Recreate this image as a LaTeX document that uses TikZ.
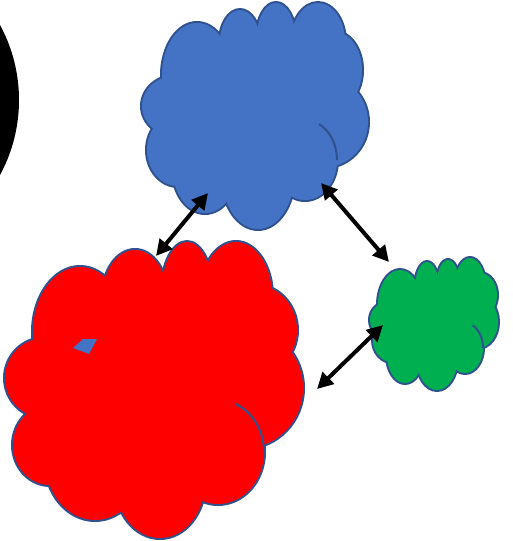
\documentclass[tikz,border=0pt]{standalone}
\usetikzlibrary{arrows.meta}

\definecolor{puffblue}{HTML}{4472C4}
\definecolor{puffrim}{HTML}{2F528F}
\definecolor{puffred}{HTML}{FF0000}
\definecolor{puffgreen}{HTML}{00B050}

\tikzset{
  rim/.style={draw=puffrim, line width=4pt},
  fold/.style={draw=puffrim, line width=2pt},
  link/.style={line width=4pt, {Triangle[length=16pt,width=16pt]}-{Triangle[length=16pt,width=16pt]}}
}

% puffs: centre x / centre y / x radius / y radius
\def\bluepuffs{197/75/35/52, 240/42/20/32, 276/36/19/33, 318/42/27/39, 335/70/27/38,
  325/122/43/45, 305/160/32/40, 258/176/36/53, 205/170/32/43, 178/150/31/36, 175/106/33/30}
\def\redpuffs{80/332/47/65, 135/295/32/45, 187/290/25/48, 236/296/36/54, 255/330/42/45,
  245/388/58/60, 218/452/46/52, 160/482/45/56, 95/460/50/60, 50/445/37/40, 45/378/40/40}
\def\greenpuffs{400/305/22/35, 427/288/12/26, 448/283/11/23, 470/285/15/27, 480/295/17/22,
  478/322/20/26, 465/348/18/25, 437/360/20/30, 405/355/18/28, 392/340/19/22, 388/320/18/18}

\begin{document}
\begin{tikzpicture}[x=1pt,y=-1pt]
  \useasboundingbox (0,0) rectangle (513,541);

  % black disc cut by the left edge
  \fill[black] (-138.5,100) circle (157.5);

  % blue cloud
  \foreach \cx/\cy/\rx/\ry in \bluepuffs
    \draw[rim] (\cx,\cy) ellipse [x radius=\rx, y radius=\ry];
  \foreach \cx/\cy/\rx/\ry in \bluepuffs
    \fill[puffblue] (\cx,\cy) ellipse [x radius=\rx, y radius=\ry];
  \fill[puffblue] (255,115) circle (75);
  \draw[fold] (305,160) ++(-64:32 and 40) arc [start angle=-64, end angle=0, x radius=32, y radius=40];

  % red cloud
  \foreach \cx/\cy/\rx/\ry in \redpuffs
    \draw[rim] (\cx,\cy) ellipse [x radius=\rx, y radius=\ry];
  \foreach \cx/\cy/\rx/\ry in \redpuffs
    \fill[puffred] (\cx,\cy) ellipse [x radius=\rx, y radius=\ry];
  \fill[puffred] (160,390) circle (110);
  \draw[fold] (218,452) ++(-68:46 and 52) arc [start angle=-68, end angle=0, x radius=46, y radius=52];
  \fill[puffblue] (73,348) -- (83,339) -- (97,339) -- (89,354) -- cycle;

  % green cloud
  \foreach \cx/\cy/\rx/\ry in \greenpuffs
    \draw[rim] (\cx,\cy) ellipse [x radius=\rx, y radius=\ry];
  \foreach \cx/\cy/\rx/\ry in \greenpuffs
    \fill[puffgreen] (\cx,\cy) ellipse [x radius=\rx, y radius=\ry];
  \fill[puffgreen] (435,322) circle (45);
  \draw[fold] (465,348) ++(-65:18 and 25) arc [start angle=-65, end angle=0, x radius=18, y radius=25];

  % link ends
  \coordinate (red-top)     at (156,256);
  \coordinate (blue-left)   at (208,193);
  \coordinate (blue-right)  at (321,183);
  \coordinate (green-top)   at (389,262);
  \coordinate (red-right)   at (317,389);
  \coordinate (green-left)  at (383,325);

  \draw[link] (red-top) -- (blue-left);
  \draw[link] (blue-right) -- (green-top);
  \draw[link] (red-right) -- (green-left);
\end{tikzpicture}
\end{document}
